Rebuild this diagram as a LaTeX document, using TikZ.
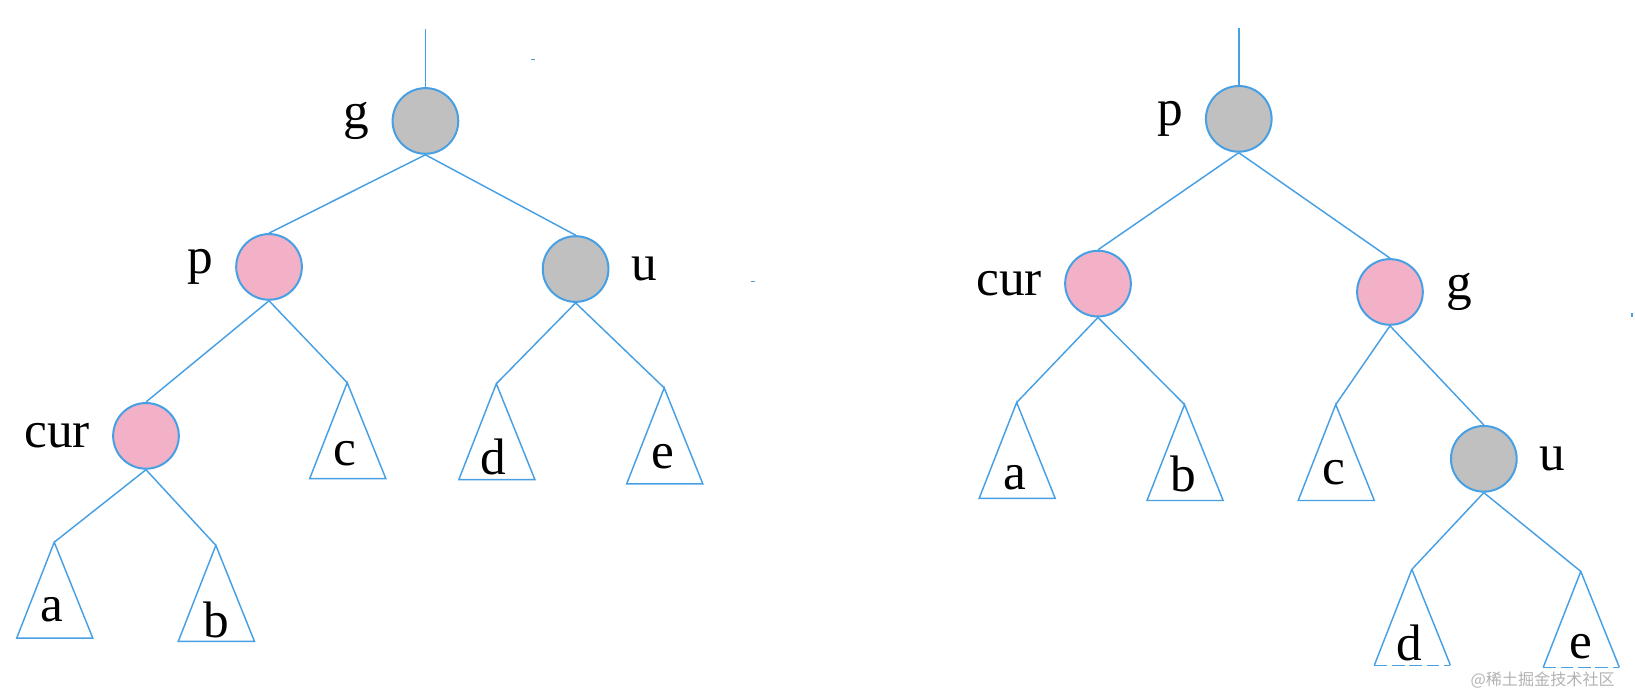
\documentclass[tikz,border=0pt]{standalone}
\usepackage{fontspec}
\setmainfont{Liberation Serif}
\newfontfamily\cjk{Noto Sans CJK SC}
\usetikzlibrary{positioning}
\definecolor{linkblue}{RGB}{72,160,228}
\definecolor{blackfill}{RGB}{192,192,192}
\definecolor{redfill}{RGB}{242,177,198}

\begin{document}
\begin{tikzpicture}[x=0.02cm,y=-0.02cm,node distance=0.42cm,
  link/.style={draw=linkblue,line width=0.8pt},
  main node/.style={circle,draw=linkblue,line width=1.1pt,minimum size=1.26cm,inner sep=0pt},
  black node/.style={main node,fill=blackfill},
  red node/.style={main node,fill=redfill},
  tag/.style={inner sep=0pt,font=\fontsize{28}{30}\selectfont},
  leaf/.style={inner sep=0pt,font=\fontsize{28}{30}\selectfont}]
\useasboundingbox (0,0) rectangle (1568,668);

% left tree: before rotation
\coordinate (l top) at (408,28);
\node[black node] (lg) at (408,116) {};
\node[red node] (lp) at (258,256) {};
\node[black node] (lu) at (552,258) {};
\node[red node] (lcur) at (140,418) {};

\node[tag] (lg tag) [left=of lg] {g};
\node[tag] (lp tag) [left=of lp] {p};
\node[tag] (lu tag) [right=of lu] {u};
\node[tag] (lcur tag) [left=of lcur] {cur};

\coordinate (la) at (52,520);
\coordinate (lb) at (207,523);
\coordinate (lc) at (333,367);
\coordinate (ld) at (476,368);
\coordinate (le) at (637,372);

\draw[link] (la) -- ++(-36,92) -- ++(73,0) -- cycle;
\draw[link] (lb) -- ++(-36,92) -- ++(73,0) -- cycle;
\draw[link] (lc) -- ++(-36,92) -- ++(73,0) -- cycle;
\draw[link] (ld) -- ++(-36,92) -- ++(73,0) -- cycle;
\draw[link] (le) -- ++(-36,92) -- ++(73,0) -- cycle;

\node[leaf] (la text) at (50,585) {a};
\node[leaf] (lb text) at (207,595) {b};
\node[leaf] (lc text) at (331,435) {c};
\node[leaf] (ld text) at (473,438) {d};
\node[leaf] (le text) at (636,438) {e};

\path[link]
    (l top) edge (lg.north)
    (lg.south) edge (lp.north)
    (lg.south) edge (lu.north)
    (lp.south) edge (lcur.north)
    (lp.south) edge (lc)
    (lu.south) edge (ld)
    (lu.south) edge (le)
    (lcur.south) edge (la)
    (lcur.south) edge (lb)
;

% right tree: after rotation
\coordinate (r top) at (1188,27);
\node[black node] (rp) at (1188,114) {};
\node[red node] (rcur) at (1053,272) {};
\node[red node] (rg) at (1333,280) {};
\node[black node] (ru) at (1423,440) {};

\node[tag] (rp tag) [left=of rp] {p};
\node[tag] (rcur tag) [left=of rcur] {cur};
\node[tag] (rg tag) [right=of rg] {g};
\node[tag] (ru tag) [right=of ru] {u};

\coordinate (ra) at (975,386);
\coordinate (rb) at (1136,388);
\coordinate (rc) at (1281,388);
\coordinate (rd) at (1354,546);
\coordinate (re) at (1516,548);

\draw[link] (ra) -- ++(-36,92) -- ++(73,0) -- cycle;
\draw[link] (rb) -- ++(-36,92) -- ++(73,0) -- cycle;
\draw[link] (rc) -- ++(-36,92) -- ++(73,0) -- cycle;
\draw[link] (rd) -- ++(-36,92) coordinate (rd left);
\draw[link,dash pattern=on 7pt off 2.5pt] (rd left) -- ++(73,0) coordinate (rd right);
\draw[link] (rd right) -- (rd);
\draw[link] (re) -- ++(-36,92) coordinate (re left);
\draw[link,dash pattern=on 7pt off 2.5pt] (re left) -- ++(73,0) coordinate (re right);
\draw[link] (re right) -- (re);

\node[leaf] (ra text) at (973,458) {a};
\node[leaf] (rb text) at (1135,455) {b};
\node[leaf] (rc text) at (1279,453) {c};
\node[leaf] (rd text) at (1352,617) {d};
\node[leaf] (re text) at (1516,620) {e};

\path[link]
    (r top) edge (rp.north)
    (rp.south) edge (rcur.north)
    (rp.south) edge (rg.north)
    (rcur.south) edge (ra)
    (rcur.south) edge (rb)
    (rg.south) edge (rc)
    (rg.south) edge (ru.north)
    (ru.south) edge (rd)
    (ru.south) edge (re)
;

% stray marks and watermark
\draw[link] (509,57) -- (513,57);
\draw[link] (720,270) -- (724,270);
\draw[link] (1565,300) -- (1565,304);
\node[anchor=east,inner sep=0pt,text=black!30,font=\cjk\fontsize{8.8}{10}\selectfont] (mark) at (1549,652) {@稀土掘金技术社区};
\end{tikzpicture}
\end{document}
